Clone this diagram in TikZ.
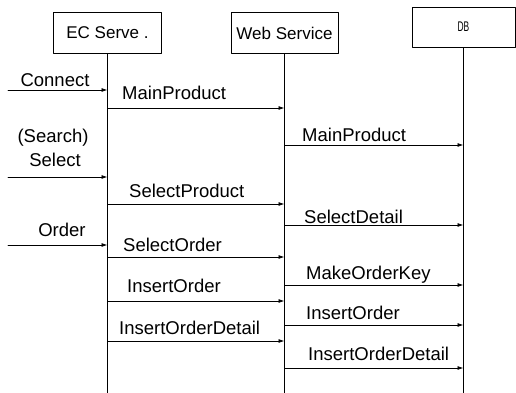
\documentclass[tikz,border=0pt]{standalone}
\usepackage{fontspec}
\setmainfont{Liberation Sans}
\usetikzlibrary{arrows.meta}
\tikzset{
  >={Latex[length=6pt, width=4pt]},
  every picture/.style={line cap=round, line join=round},
  obj/.style={draw, line width=0.9pt, minimum height=41pt, inner sep=0pt, font=\fontsize{17}{20}\selectfont},
  life/.style={line width=0.8pt},
  msg/.style={->, line width=0.8pt},
  lbl/.style={anchor=base west, inner sep=0pt, font=\fontsize{18.5}{22}\selectfont},
}
\begin{document}
\begin{tikzpicture}[x=1pt, y=-1pt]
  \useasboundingbox (0,0) rectangle (516,393);
  % ---------------- participants and lifelines
  \node[obj, minimum width=108pt] (ec) at (107.5,32.5) {EC Serve .};
  \node[obj, minimum width=107pt] (ws) at (284.5,33) {Web Service};
  \node[obj, minimum width=103pt, minimum height=40pt] (db) at (463.5,27)
    {\raisebox{-3pt}{\fontsize{14}{16}\selectfont\scalebox{0.6}[1]{DB}}};
  \coordinate (user) at (8,0);
  \foreach \p in {ec, ws, db}
    \draw[life] (\p.south) -- (\p.south |- 0,393);
  % ---------------- requests from the client
  \draw[msg] (user |- 0,90) -- (ec |- 0,90);
  \node[lbl, anchor=base] (connect) at (55,86.5) {Connect};
  \node[lbl, anchor=base] (search) at (53,142.5) {(Search)};
  \draw[msg] (user |- 0,177) -- (ec |- 0,177);
  \node[lbl, anchor=base] (select) at (55,166.5) {Select};
  \draw[msg] (user |- 0,245) -- (ec |- 0,245);
  \node[lbl, anchor=base] (order) at (62,236.5) {Order};
  % ---------------- EC server -> web service
  \draw[msg] (ec |- 0,108) -- (ws |- 0,108);
  \node[lbl] (ecmain) at (122,99.5) {MainProduct};
  \draw[msg] (ec |- 0,204) -- (ws |- 0,204);
  \node[lbl] (ecselprod) at (129,197.5) {SelectProduct};
  \draw[msg] (ec |- 0,257) -- (ws |- 0,257);
  \node[lbl] (ecselord) at (123,251.5) {SelectOrder};
  \draw[msg] (ec |- 0,301) -- (ws |- 0,301);
  \node[lbl] (ecins) at (127,292.5) {InsertOrder};
  \draw[msg] (ec |- 0,341) -- (ws |- 0,341);
  \node[lbl] (ecinsdet) at (119,334.5) {InsertOrderDetail};
  % ---------------- web service -> DB
  \draw[msg] (ws |- 0,145) -- (db |- 0,145);
  \node[lbl] (wsmain) at (302,141.5) {MainProduct};
  \draw[msg] (ws |- 0,225) -- (db |- 0,225);
  \node[lbl] (wsseldet) at (304,223) {SelectDetail};
  \draw[msg] (ws |- 0,285) -- (db |- 0,285);
  \node[lbl] (wskey) at (306,279.5) {MakeOrderKey};
  \draw[msg] (ws |- 0,325) -- (db |- 0,325);
  \node[lbl] (wsins) at (306,319.5) {InsertOrder};
  \draw[msg] (ws |- 0,368) -- (db |- 0,368);
  \node[lbl] (wsinsdet) at (308,360.5) {InsertOrderDetail};
\end{tikzpicture}
\end{document}
